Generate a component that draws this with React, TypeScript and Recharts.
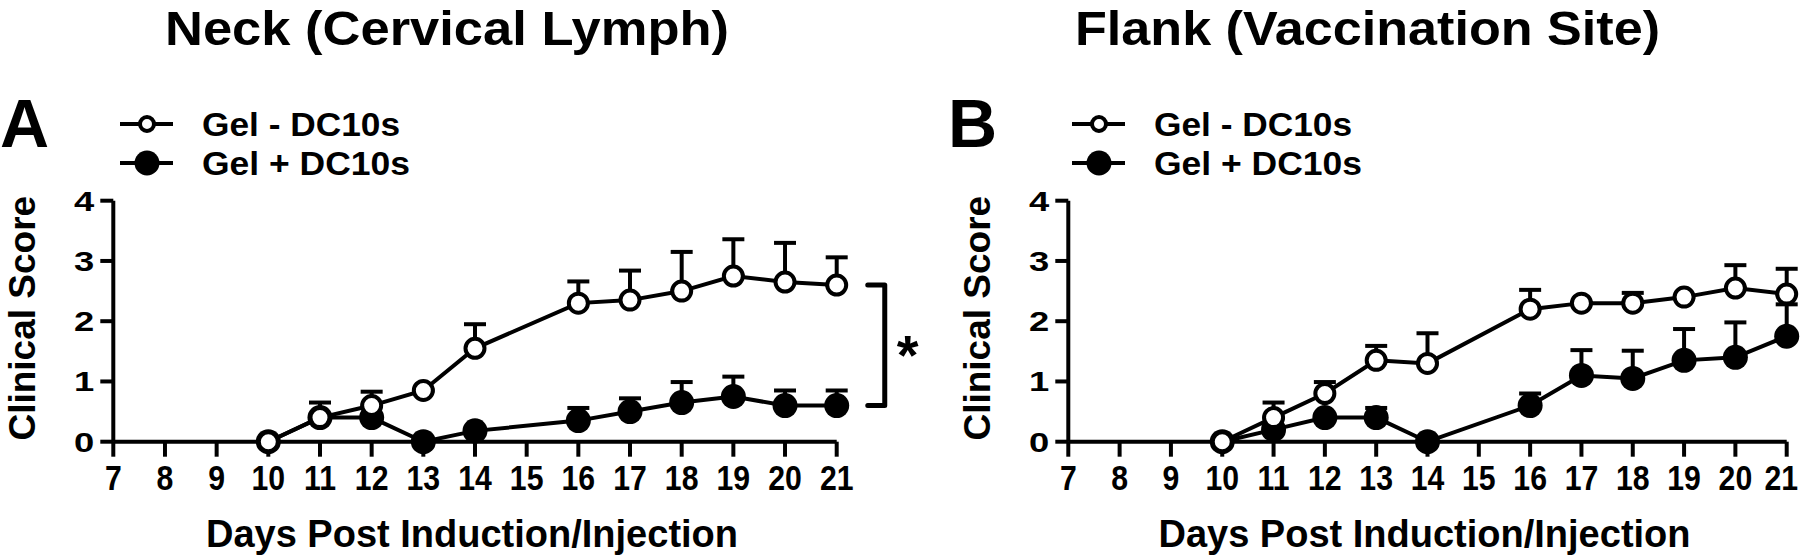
import { ErrorBar, Legend, Line, LineChart, ReferenceLine, XAxis, YAxis } from 'recharts';

const FONT = "'Liberation Sans', Arial, Helvetica, sans-serif";

const days = [10, 11, 12, 13, 14, 16, 17, 18, 19, 20, 21];
const dayTicks = [7, 8, 9, 10, 11, 12, 13, 14, 15, 16, 17, 18, 19, 20, 21];
const scoreTicks = [0, 1, 2, 3, 4];
const seriesNames = ['Gel - DC10s', 'Gel + DC10s'];

// panel A: neck (cervical lymph)
const neckGelOnly = [0, 0.4, 0.6, 0.85, 1.55, 2.3, 2.35, 2.5, 2.75, 2.65, 2.6];
const neckGelOnlySem = [0, 0.25, 0.23, 0, 0.4, 0.36, 0.49, 0.65, 0.61, 0.65, 0.46];
const neckGelDc = [0, 0.4, 0.4, 0, 0.18, 0.35, 0.5, 0.65, 0.75, 0.6, 0.6];
const neckGelDcSem = [0, 0, 0, 0, 0, 0.21, 0.22, 0.34, 0.33, 0.25, 0.25];

// panel B: flank (vaccination site)
const flankGelOnly = [0, 0.4, 0.8, 1.35, 1.3, 2.2, 2.3, 2.3, 2.4, 2.55, 2.45];
const flankGelOnlySem = [0, 0.25, 0.19, 0.24, 0.5, 0.32, 0, 0.17, 0, 0.38, 0.42];
const flankGelDc = [0, 0.2, 0.4, 0.4, 0, 0.6, 1.1, 1.05, 1.35, 1.4, 1.75];
const flankGelDcSem = [0, 0, 0, 0.16, 0, 0.2, 0.42, 0.46, 0.52, 0.58, 0.53];

function buildRows(gelOnly: number[], gelOnlySem: number[], gelDc: number[], gelDcSem: number[]) {
  return days.map((day, i) => ({
    day,
    gelOnly: gelOnly[i],
    gelOnlyErr: [0, gelOnlySem[i]],
    gelDc: gelDc[i],
    gelDcErr: [0, gelDcSem[i]],
  }));
}

const neckRows = buildRows(neckGelOnly, neckGelOnlySem, neckGelDc, neckGelDcSem);
const flankRows = buildRows(flankGelOnly, flankGelOnlySem, flankGelDc, flankGelDcSem);

const XTick = (props: any) => {
  const { x, y, payload, maxX } = props;
  // keep the last label inside the picture
  const half = String(payload.value).length * 8.4;
  const shift = maxX ? Math.min(0, maxX - (x + half)) : 0;
  return (
    <g transform={`translate(${x + shift},${y})`}>
      <text y={33} textAnchor="middle" transform="scale(0.84,1)" fontSize={36} fontWeight="bold" fontFamily={FONT} fill="#000">
        {payload.value}
      </text>
    </g>
  );
};

const YTick = (props: any) => {
  const { x, y, payload } = props;
  return (
    <g transform={`translate(${x - 6},${y + 10})`}>
      <text textAnchor="end" transform="scale(1.3,1)" fontSize={28} fontWeight="bold" fontFamily={FONT} fill="#000">
        {payload.value}
      </text>
    </g>
  );
};

const xTitle = (props: any) => {
  const vb = props.viewBox ?? { x: 0, y: 0, width: 0, height: 0 };
  return (
    <text x={vb.x + vb.width / 2 - 3} y={vb.y + 105} textAnchor="middle" fontSize={38} fontWeight="bold" fontFamily={FONT} fill="#000">
      Days Post Induction/Injection
    </text>
  );
};

const yTitle = (props: any) => {
  const vb = props.viewBox ?? { x: 0, y: 0, width: 0, height: 0 };
  const cx = vb.x + vb.width - 78;
  const cy = vb.y + vb.height / 2 - 3;
  return (
    <text x={cx} y={cy} transform={`rotate(-90, ${cx}, ${cy})`} textAnchor="middle" fontSize={37} fontWeight="bold" fontFamily={FONT} fill="#000">
      Clinical Score
    </text>
  );
};

const LegendBox = () => (
  <svg width={330} height={90} style={{ display: 'block' }}>
    {seriesNames.map((name, i) => {
      const cy = 24 + i * 39;
      return (
        <g key={name}>
          <line x1={10} x2={63} y1={cy} y2={cy} stroke="#000" strokeWidth={4} />
          {i === 0 ? (
            <circle cx={37} cy={cy} r={7} fill="#fff" stroke="#000" strokeWidth={4} />
          ) : (
            <circle cx={37} cy={cy} r={12.5} fill="#000" />
          )}
          <text x={92} y={cy + 11.5} fontSize={34} fontWeight="bold" fontFamily={FONT} fill="#000" textLength={i === 0 ? 198 : 208} lengthAdjust="spacingAndGlyphs">
            {name}
          </text>
        </g>
      );
    })}
  </svg>
);

const bracketShape = (props: any) => {
  const { x1, y1, y2 } = props;
  return (
    <g>
      <path d={`M ${x1 - 17} ${y1} H ${x1} V ${y2} H ${x1 - 17}`} fill="none" stroke="#000" strokeWidth={5} strokeLinecap="round" strokeLinejoin="round" />
      <text x={x1 + 12} y={(y1 + y2) / 2 + 29} fontSize={56} fontWeight="bold" fontFamily={FONT} fill="#000">
        *
      </text>
    </g>
  );
};

interface PanelProps {
  rows: ReturnType<typeof buildRows>;
  left: number;
  width: number;
  marginLeft: number;
  marginRight: number;
  legendLeft: number;
  bracket?: [number, number];
}

function Panel({ rows, left, width, marginLeft, marginRight, legendLeft, bracket }: PanelProps) {
  return (
    <div style={{ position: 'absolute', left, top: 0 }}>
      <LineChart width={width} height={558} data={rows} margin={{ top: 200.7, right: marginRight, bottom: 56.3, left: marginLeft }}>
        <XAxis
          dataKey="day"
          type="number"
          domain={[7, 21]}
          ticks={dayTicks}
          interval={0}
          height={60}
          tickSize={15}
          tickMargin={0}
          axisLine={{ stroke: '#000', strokeWidth: 4 }}
          tickLine={{ stroke: '#000', strokeWidth: 4 }}
          tick={<XTick maxX={width - 2} />}
          label={xTitle}
        />
        <YAxis
          type="number"
          domain={[0, 4]}
          ticks={scoreTicks}
          width={80}
          tickSize={13}
          tickMargin={0}
          axisLine={{ stroke: '#000', strokeWidth: 4 }}
          tickLine={{ stroke: '#000', strokeWidth: 4 }}
          tick={<YTick />}
          label={yTitle}
        />
        <Legend
          layout="vertical"
          align="center"
          verticalAlign="middle"
          content={() => <LegendBox />}
          wrapperStyle={{ position: 'absolute', left: legendLeft, top: 100, width: 330, height: 90 }}
        />
        <Line dataKey="gelDc" stroke="#000" strokeWidth={4} dot={{ r: 12.5, fill: '#000', stroke: 'none' }} activeDot={false} isAnimationActive={false}>
          <ErrorBar dataKey="gelDcErr" direction="y" width={11} stroke="#000" strokeWidth={4} isAnimationActive={false} />
        </Line>
        <Line dataKey="gelOnly" stroke="#000" strokeWidth={4} dot={{ r: 9.5, fill: '#fff', stroke: '#000', strokeWidth: 4 }} activeDot={false} isAnimationActive={false}>
          <ErrorBar dataKey="gelOnlyErr" direction="y" width={11} stroke="#000" strokeWidth={4} isAnimationActive={false} />
        </Line>
        {bracket && (
          <ReferenceLine
            segment={[
              { x: 21.93, y: bracket[0] },
              { x: 21.93, y: bracket[1] },
            ]}
            ifOverflow="visible"
            shape={bracketShape}
          />
        )}
      </LineChart>
    </div>
  );
}

export default function App() {
  return (
    <div style={{ position: 'absolute', left: 0, top: 0, width: 1800, height: 558, background: '#fff' }}>
      <Panel
        rows={neckRows}
        left={0}
        width={960}
        marginLeft={33.3}
        marginRight={123.3}
        legendLeft={110}
        bracket={[neckGelOnly[neckGelOnly.length - 1], neckGelDc[neckGelDc.length - 1]]}
      />
      <Panel rows={flankRows} left={900} width={900} marginLeft={88.3} marginRight={13.3} legendLeft={162} />
      <svg width={1800} height={558} style={{ position: 'absolute', left: 0, top: 0, pointerEvents: 'none' }}>
        <g fontFamily={FONT} fontWeight="bold" fill="#000">
          <text x={447} y={45} fontSize={49} textAnchor="middle" textLength={564} lengthAdjust="spacingAndGlyphs">
            Neck (Cervical Lymph)
          </text>
          <text x={1367.5} y={45} fontSize={49} textAnchor="middle" textLength={585} lengthAdjust="spacingAndGlyphs">
            Flank (Vaccination Site)
          </text>
          <text x={0} y={147} fontSize={68}>A</text>
          <text x={948} y={147} fontSize={68}>B</text>
        </g>
      </svg>
    </div>
  );
}
